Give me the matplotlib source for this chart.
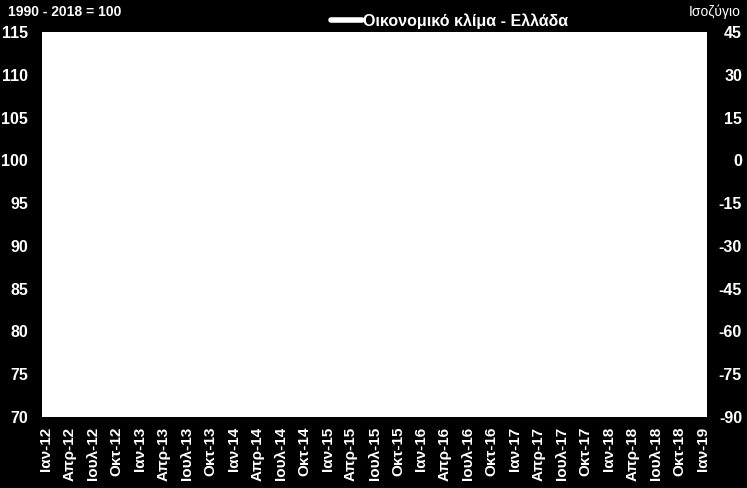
import matplotlib
matplotlib.use("Agg")
import matplotlib.pyplot as plt
from matplotlib.lines import Line2D

plt.rcParams['font.family'] = ['Liberation Sans', 'DejaVu Sans']

# Quarterly tick labels (monthly category axis, every 3rd month labelled)
tick_labels = [
    "Ιαν-12", "Απρ-12", "Ιουλ-12", "Οκτ-12",
    "Ιαν-13", "Απρ-13", "Ιουλ-13", "Οκτ-13",
    "Ιαν-14", "Απρ-14", "Ιουλ-14", "Οκτ-14",
    "Ιαν-15", "Απρ-15", "Ιουλ-15", "Οκτ-15",
    "Ιαν-16", "Απρ-16", "Ιουλ-16", "Οκτ-16",
    "Ιαν-17", "Απρ-17", "Ιουλ-17", "Οκτ-17",
    "Ιαν-18", "Απρ-18", "Ιουλ-18", "Οκτ-18",
    "Ιαν-19",
]
n_months = 85  # Jan-12 .. Jan-19
series_name = "Οικονομικό κλίμα - Ελλάδα"
# The series is drawn in white on the white plot area; no values are visible.
climate_values = []

left_ticks = [70, 75, 80, 85, 90, 95, 100, 105, 110, 115]
right_ticks = [-90, -75, -60, -45, -30, -15, 0, 15, 30, 45]

W, H = 747, 488
fig = plt.figure(figsize=(W / 100, H / 100), dpi=100, facecolor='black')
ax = fig.add_axes([42 / W, (H - 417) / H, 665 / W, 385 / H])
ax.set_facecolor('white')
for s in ax.spines.values():
    s.set_visible(False)

ax.plot(range(len(climate_values)), climate_values, color='white', lw=3.5)

ax.set_xlim(-0.5, n_months - 0.5)
ax.set_xticks(range(0, n_months, 3))
ax.set_xticklabels(tick_labels, rotation=90, fontsize=11, fontweight='bold',
                   color='white', va='top')
ax.tick_params(axis='x', length=0, pad=7)

ax.set_ylim(70, 115)
ax.set_yticks(left_ticks)
ax.set_yticklabels([str(v) for v in left_ticks], fontsize=11.5,
                   fontweight='bold', color='white')
ax.tick_params(axis='y', length=0, pad=10)

ax2 = ax.twinx()
for s in ax2.spines.values():
    s.set_visible(False)
ax2.set_ylim(-90, 45)
ax2.set_yticks(right_ticks)
ax2.set_yticklabels([str(v) for v in right_ticks], fontsize=11.5,
                    fontweight='bold', color='white', ha='right')
ax2.tick_params(axis='y', length=0, pad=25.2)

fig.text(8 / W, 1 - 12 / H, "1990 - 2018 = 100", fontsize=10,
         fontweight='bold', color='white', ha='left', va='center')
fig.text(741 / W, 1 - 12 / H, "Ισοζύγιο", fontsize=10,
         color='white', ha='right', va='center')

handle = Line2D([], [], color='white', lw=4, solid_capstyle='round')
leg = fig.legend([handle], [series_name], loc='center',
                 bbox_to_anchor=(450 / W, 1 - 21 / H), frameon=False,
                 handlelength=1.9, handletextpad=0.1,
                 prop={'weight': 'bold', 'size': 11.5})
for t in leg.get_texts():
    t.set_color('white')

fig.savefig("out.png", dpi=100, facecolor='black')
